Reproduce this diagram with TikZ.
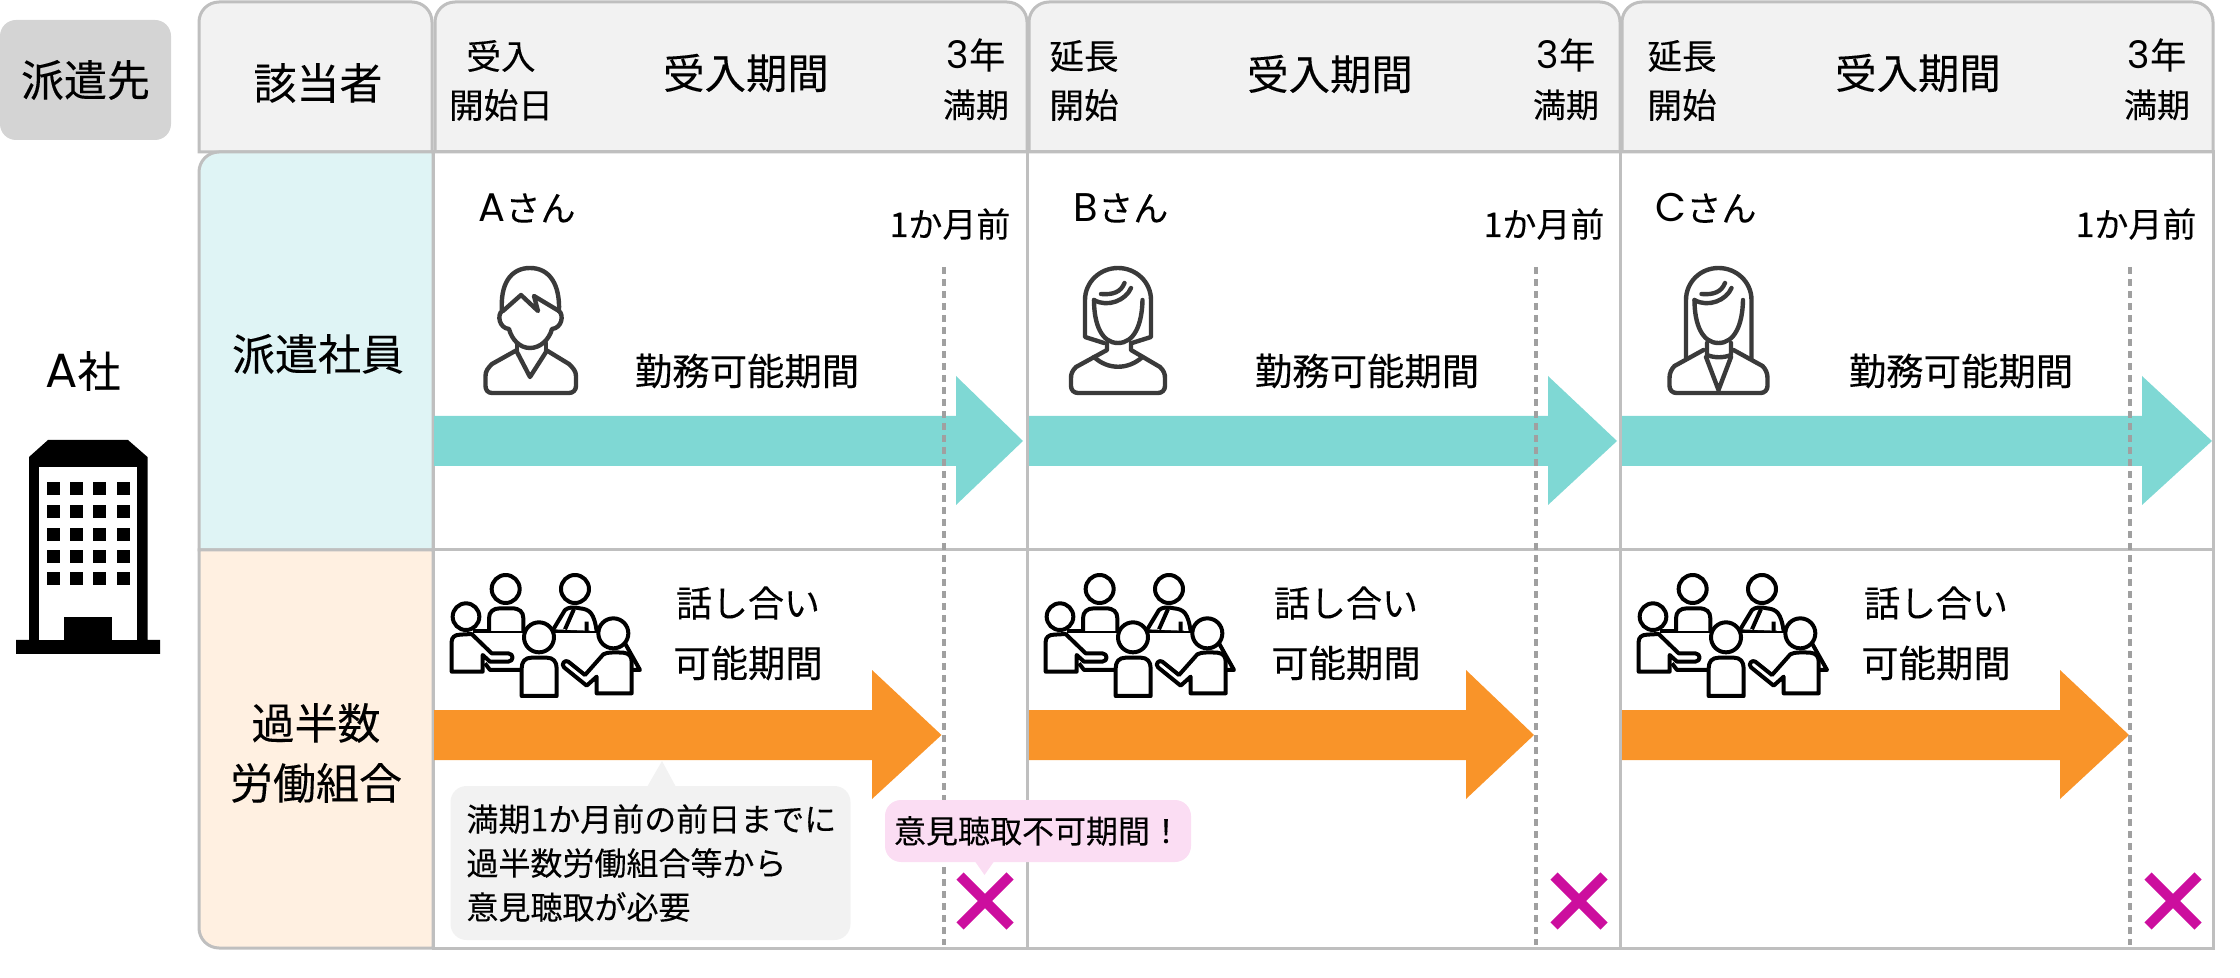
\documentclass[tikz,border=0pt]{standalone}
\usepackage{xcolor}
\usepackage{fontspec}
\setmainfont[FakeBold=0.12]{Noto Sans CJK JP}
\newfontfamily\latinfont{Poppins}
\usetikzlibrary{positioning}
\definecolor{gridgray} {RGB}{191,191,191}
\definecolor{headgray} {RGB}{242,242,242}
\definecolor{sakigray} {RGB}{212,212,212}
\definecolor{rowteal}  {RGB}{223,244,245}
\definecolor{roworange}{RGB}{255,240,225}
\definecolor{arrteal}  {RGB}{127,216,212}
\definecolor{arrorange}{RGB}{249,148,41}
\definecolor{notepink} {RGB}{251,221,243}
\definecolor{crossred} {RGB}{204,14,158}
\definecolor{dashgray} {RGB}{160,160,160}
\definecolor{icongray} {RGB}{58,58,58}
\newcommand{\bigA}[2]{{\latinfont\fontsize{#1}{#1}\selectfont #2}}
\tikzset{
  cell/.style={draw=gridgray,line width=1.5pt},
  headcell/.style={cell,fill=headgray},
  tl/.style={font=\fontsize{21.5}{21.5}\selectfont,inner sep=0pt},
  tp/.style={font=\fontsize{20.7}{20.7}\selectfont,inner sep=0pt},
  tm/.style={font=\fontsize{18.7}{18.7}\selectfont,inner sep=0pt},
  ts/.style={font=\fontsize{17.3}{17.3}\selectfont,inner sep=0pt},
  tn/.style={font=\fontsize{16}{22}\selectfont,inner sep=0pt},
  monthline/.style={draw=dashgray,line width=2pt,dash pattern=on 3.5pt off 2.5pt},
  iconline/.style={draw=icongray,line width=2.2pt,line cap=round,line join=round},
  meetline/.style={draw=black,line width=2pt,line join=round,fill=white},
  crossbar/.style={draw=crossred,line width=5pt},
  manicon/.pic={
    \draw[iconline] (-13,350) -- (-38,364) .. controls (-42,368) and (-44.5,371) .. (-44.5,376) -- (-44.5,386)
      .. controls (-44.5,390) and (-42,393) .. (-38,393) -- (39,393)
      .. controls (43,393) and (46,390) .. (46,386) -- (46,376)
      .. controls (46,371) and (43,368) .. (39,364) -- (16,350);
    \draw[iconline] (-13,352) -- (0,377) -- (16,352);
    \draw[iconline] (-13,343) -- (-13,350) (16,343) -- (16,350);
    \draw[iconline] (-28,311) .. controls (-30,285) and (-20,268) .. (0,268)
      .. controls (20,268) and (30,285) .. (29,311);
    \draw[iconline] (-27,311) -- (-9,295) -- (8,311) -- (4,296) -- (29,311);
    \draw[iconline] (-28,311) .. controls (-33,315) and (-31,328) .. (-21,329)
      .. controls (-18,340) and (-10,348) .. (0,348)
      .. controls (10,348) and (19,340) .. (22,329)
      .. controls (32,328) and (34,315) .. (29,311);
  },
  womanbody/.pic={
    \draw[iconline] (-24,300) .. controls (-24,325) and (-16,343) .. (0,343)
      .. controls (16,343) and (24,325) .. (24.5,300);
    \draw[iconline] (-24,300) .. controls (-10,308) and (8,300) .. (13,288);
    \draw[iconline] (-17,294) .. controls (-5,295) and (3,292) .. (6.5,283);
  },
  womanshort/.pic={
    \draw[iconline] (-14,343) -- (-33,337) -- (-33,300)
      .. controls (-33,282) and (-18,268) .. (0,268)
      .. controls (18,268) and (33,282) .. (33,300) -- (33,337) -- (14,343);
    \pic {womanbody};
    \draw[iconline] (-11,343) -- (-11,350) -- (-42,367)
      .. controls (-46,371) and (-47,374) .. (-47,378) -- (-47,386)
      .. controls (-47,390) and (-44,393) .. (-40,393) -- (40,393)
      .. controls (44,393) and (47,390) .. (47,386) -- (47,378)
      .. controls (47,374) and (46,371) .. (42,367) -- (13,350) -- (13,343);
    \draw[iconline] (-24,357) .. controls (-10,370) and (10,370) .. (24.5,357);
  },
  womanlong/.pic={
    \draw[iconline] (-32.5,358) -- (-32.5,300)
      .. controls (-32.5,282) and (-18,268) .. (0,268)
      .. controls (18,268) and (33,282) .. (33,300) -- (33,358);
    \pic {womanbody};
    \draw[iconline] (-11.5,343) -- (-11.5,355) .. controls (-4,358) and (5,358) .. (12.5,355) -- (12.5,343);
    \draw[iconline] (-15,350) -- (-44,366)
      .. controls (-47,369) and (-49,373) .. (-49,378) -- (-49,386)
      .. controls (-49,390) and (-46,393) .. (-42,393) -- (42,393)
      .. controls (46,393) and (49,390) .. (49,386) -- (49,378)
      .. controls (49,373) and (47,369) .. (44,366) -- (15,350);
    \draw[iconline] (-12.5,357) -- (0,390) -- (12.5,357);
  },
  meeticon/.pic={
    \begin{scope}[scale=1/3]
      \draw[meetline,fill=none] (100,213) -- (475,213);
      % back row
      \draw[meetline] (147,213) -- (147,175) .. controls (147,155) and (160,145) .. (180,145) -- (215,145)
        .. controls (238,145) and (250,155) .. (250,175) -- (250,213);
      \draw[meetline] (197,87) circle (42);
      \draw[meetline] (340,208) -- (375,150) .. controls (385,142) and (400,140) .. (420,145)
        .. controls (450,148) and (462,160) .. (470,213);
      \draw[meetline,fill=none] (375,208) -- (402,147) (440,185) -- (440,213);
      \draw[meetline] (405,87) circle (42);
      % left
      \draw[meetline] (35,335) -- (35,245) .. controls (35,232) and (45,224) .. (60,224) -- (95,222)
        -- (155,280) -- (205,280) .. controls (222,282) and (222,303) .. (205,305) -- (150,305)
        -- (128,285) -- (128,335) -- cycle;
      \draw[meetline,fill=none] (135,310) -- (150,330) -- (245,330);
      \draw[meetline] (78,170) circle (40);
      % right
      \draw[meetline,fill=none] (555,250) -- (600,330) -- (575,330);
      \draw[meetline] (470,400) -- (470,350) -- (440,377) -- (372,322) .. controls (362,312) and (375,298) .. (385,305)
        -- (435,345) -- (490,283) .. controls (500,276) and (530,277) .. (550,278)
        .. controls (568,280) and (575,290) .. (575,305) -- (575,400) -- cycle;
      \draw[meetline] (520,220) circle (45);
      % front
      \draw[meetline] (245,408) -- (245,325) .. controls (245,305) and (255,293) .. (275,293) -- (320,293)
        .. controls (340,293) and (350,305) .. (350,325) -- (350,408) -- cycle;
      \draw[meetline] (297,232) circle (45);
    \end{scope}
  },
}
\begin{document}
\begin{tikzpicture}[x=0.5pt,y=-0.5pt]
  \useasboundingbox (0,0) rectangle (2240,978);
  % left column
  \node[tl,fill=sakigray,rounded corners=8pt,minimum width=85.5pt,minimum height=60pt](saki)at(85.5,80){派遣先};
  \node[tl](asha)at(83,371){\bigA{24}{A}社};
  \fill (16,654) rectangle (160,640) (29,640) -- (29,457) -- (48,440) -- (128,440) -- (147.5,457) -- (147.5,640) -- cycle;
  \fill[white] (38.5,467) rectangle (137,640);
  \fill (64,617.5) rectangle (112,640);
  \foreach \wy in {482,505,528,550,572}{
    \foreach \wx in {47,70,93,117}{
      \fill (\wx,\wy) rectangle ++(12.5,13);
    }
  }
  % table frame
  \draw[headcell] (199,152) [rounded corners=10pt] -- (199,2) -- (432,2) [sharp corners] -- (432,152) -- cycle;
  \draw[cell,fill=rowteal] (199,550) [rounded corners=10pt] -- (199,152) [sharp corners] -- (433,152) -- (433,550) -- cycle;
  \draw[cell,fill=roworange] (199,550) [rounded corners=10pt] -- (199,948) [sharp corners] -- (433,948) -- (433,550) -- cycle;
  \foreach \ca/\cb in {435/1027,1029/1620,1622/2213}{
    \draw[headcell] (\ca,152) [rounded corners=10pt] -- (\ca,2) -- (\cb,2) [sharp corners] -- (\cb,152) -- cycle;
  }
  \foreach \ca/\cb in {433/1027,1027/1620,1620/2213}{
    \draw[cell] (\ca,152) rectangle (\cb,550);
    \draw[cell] (\ca,550) rectangle (\cb,948);
  }
  \draw[gridgray,line width=0.8pt] (433,152) -- (433,948);
  % period arrows
  \foreach \xa/\xb/\xc in {434/956/1023,1029/1548/1617,1622/2142/2212}{
    \fill[arrteal] (\xa,416) -- (\xb,416) -- (\xb,376) -- (\xc,441) -- (\xb,505) -- (\xb,466) -- (\xa,466) -- cycle;
  }
  \foreach \xa/\xb/\xc in {434/872/941.5,1029/1466/1534,1622/2060/2129}{
    \fill[arrorange] (\xa,710) -- (\xb,710) -- (\xb,670) -- (\xc,735) -- (\xb,799) -- (\xb,760) -- (\xa,760) -- cycle;
  }
  % one month before lines
  \foreach \i/\mx/\cx in {1/944/985,2/1536/1579,3/2130/2173}{
    \coordinate (mtop\i) at (\mx,267);
    \coordinate (mbot\i) at (\mx,945);
    \draw[monthline] (mtop\i) -- (mbot\i);
    \draw[crossbar] (\cx-25,876) -- (\cx+25,926) (\cx-25,926) -- (\cx+25,876);
  }
  % header texts
  \node[tl](gaito)at(318,83){該当者};
  \node[ts](uke)at(501,56){受入};
  \node[ts](kaishi)at(501,105){開始日};
  \node[tp](kikan1)at(746,73){受入期間};
  \node[tp](kikan2)at(1330,74){受入期間};
  \node[tp](kikan3)at(1918,73){受入期間};
  \foreach \i/\ex in {2/1084,3/1682}{
    \node[ts](encho\i)at(\ex,56){延長};
    \node[ts](kai\i)at(\ex,105){開始};
  }
  \foreach \i/\nx in {1/976,2/1566,3/2157}{
    \node[ts,font=\fontsize{18}{18}\selectfont](san\i)at(\nx,55){\bigA{19}{3}年};
    \node[ts,font=\fontsize{16.5}{16.5}\selectfont](man\i)at(\nx,105){満期};
  }
  % row labels
  \node[tl](haken)at(318,354){派遣社員};
  \node[tl](kahan)at(316,723){過半数};
  \node[tl](roso)at(316,783){労働組合};
  % people
  \node[tm,font=\fontsize{17.5}{17.5}\selectfont](asan)at(527,208){\bigA{20}{A}さん};
  \node[tm,font=\fontsize{17.5}{17.5}\selectfont](bsan)at(1121,208){\bigA{20}{B}さん};
  \node[tm,font=\fontsize{17.5}{17.5}\selectfont](csan)at(1706,208){\bigA{20}{C}さん};
  \pic at (530,0) {manicon};
  \pic at (1118,0) {womanshort};
  \pic at (1718.5,0) {womanlong};
  \foreach \i/\tx/\kx/\gx/\mo in {1/950/747/748/440,2/1544/1367/1346/1034,3/2136/1961/1936/1627}{
    \node[tn,font=\fontsize{17}{17}\selectfont](mae\i)at(\tx,224){1か月前};
    \node[tm](kinmu\i)at(\kx,371){勤務可能期間};
    \node[tm,font=\fontsize{18}{18}\selectfont](hanashi\i)at(\gx,603){話し合い};
    \node[tm](kano\i)at(\gx,663){可能期間};
    \pic at (\mo,560) {meeticon};
  }
  % notes
  \fill[headgray] (647,787) -- (662,761) -- (676,787) -- cycle;
  \node[tn,fill=headgray,rounded corners=8pt,align=left,text width=184pt,inner sep=8pt,
        minimum height=77pt](note)at(650.5,863){満期1か月前の前日までに\\過半数労働組合等から\\意見聴取が必要};
  \fill[notepink] (974,860) -- (984.5,875) -- (995,860) -- cycle;
  \node[tn,fill=notepink,rounded corners=8pt,minimum width=153pt,minimum height=31pt](fuka)at(1038,831){意見聴取不可期間！};
\end{tikzpicture}
\end{document}
